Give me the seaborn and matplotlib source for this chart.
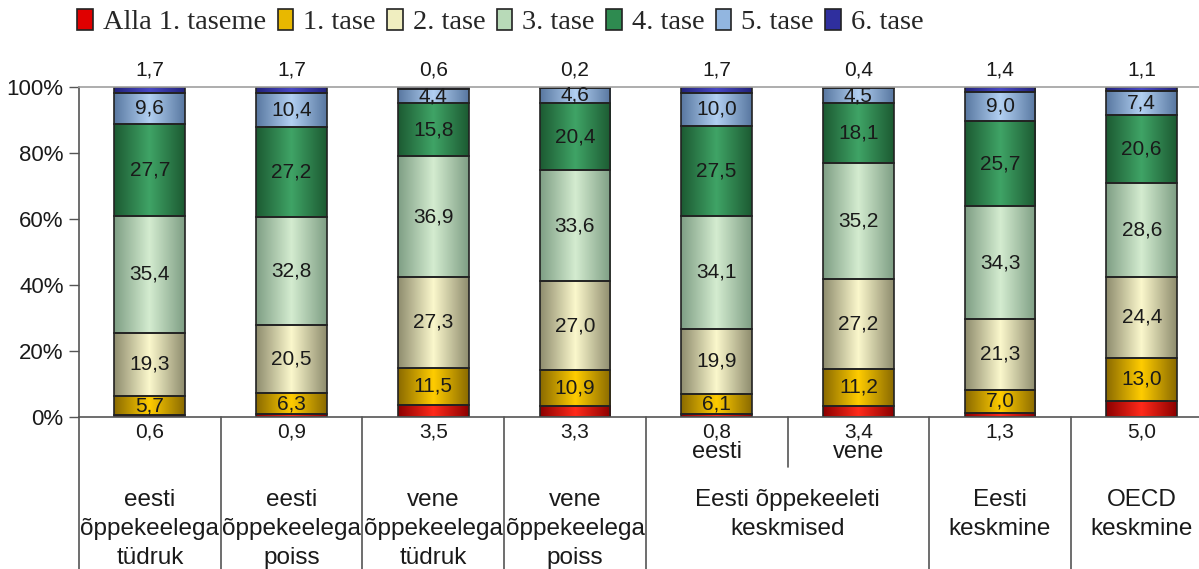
import matplotlib
matplotlib.use('Agg')
import matplotlib.pyplot as plt
import matplotlib.transforms as mtransforms
from matplotlib.colors import LinearSegmentedColormap
from matplotlib.patches import Patch
import seaborn as sns
import numpy as np
import pandas as pd

# andmed
groups = ['e_tudruk', 'e_poiss', 'v_tudruk', 'v_poiss', 'k_eesti', 'k_vene', 'eesti', 'oecd']
levels = ['Alla 1. taseme', '1. tase', '2. tase', '3. tase', '4. tase', '5. tase', '6. tase']
alla1 = [0.6, 0.9, 3.5, 3.3, 0.8, 3.4, 1.3, 5.0]
tase1 = [5.7, 6.3, 11.5, 10.9, 6.1, 11.2, 7.0, 13.0]
tase2 = [19.3, 20.5, 27.3, 27.0, 19.9, 27.2, 21.3, 24.4]
tase3 = [35.4, 32.8, 36.9, 33.6, 34.1, 35.2, 34.3, 28.6]
tase4 = [27.7, 27.2, 15.8, 20.4, 27.5, 18.1, 25.7, 20.6]
tase5 = [9.6, 10.4, 4.4, 4.6, 10.0, 4.5, 9.0, 7.4]
tase6 = [1.7, 1.7, 0.6, 0.2, 1.7, 0.4, 1.4, 1.1]
series = [alla1, tase1, tase2, tase3, tase4, tase5, tase6]

group_labels = ['eesti\nõppekeelega\ntüdruk', 'eesti\nõppekeelega\npoiss',
                'vene\nõppekeelega\ntüdruk', 'vene\nõppekeelega\npoiss',
                None, None, 'Eesti\nkeskmine', 'OECD\nkeskmine']
sub_labels = {4: 'eesti', 5: 'vene'}
span_label = 'Eesti õppekeeleti\nkeskmised'
yticks = [0, 20, 40, 60, 80, 100]

# värvid: (serv, keskkoht) silindri efekti jaoks
shades = [('#8c0000', '#ff2a1a'), ('#8a6a00', '#ffcc00'), ('#8e8c6e', '#fbf8cc'),
          ('#7e9e84', '#d4ecd0'), ('#1c5a32', '#3fa466'), ('#5877a0', '#b2d0f2'),
          ('#22227a', '#4848c4')]
legend_cols = ['#e00000', '#e8b800', '#f0eec0', '#b8dab8', '#2e8b50', '#92b6e0', '#2f2f9e']
txt = '#1a1a1a'

sns.set_style('white')
plt.rcParams['font.family'] = ['Liberation Sans', 'DejaVu Sans']

fig = plt.figure(figsize=(11.99, 5.69), dpi=100)
ax = fig.add_axes([79 / 1199, 152 / 569, 8 * 141.7 / 1199, 330 / 569])

data = np.array(series, dtype=float)
data = data / data.sum(axis=0) * 100
bottoms = np.vstack([np.zeros(len(groups)), np.cumsum(data, axis=0)[:-1]])

for i, lev in enumerate(levels):
    df = pd.DataFrame({'grupp': groups, 'val': data[i]})
    n0 = len(ax.patches)
    sns.barplot(data=df, x='grupp', y='val', order=groups, bottom=bottoms[i],
                color=legend_cols[i], width=0.5, errorbar=None,
                edgecolor='#222222', linewidth=1.2, ax=ax)
    cmap = LinearSegmentedColormap.from_list('c%d' % i, [shades[i][0], shades[i][1], shades[i][0]])
    grad = np.linspace(0, 1, 256).reshape(1, -1)
    for p in ax.patches[n0:]:
        x0, y0 = p.get_x(), p.get_y()
        im = ax.imshow(grad, cmap=cmap, aspect='auto', zorder=1.5,
                       extent=[x0, x0 + p.get_width(), y0, y0 + p.get_height()])
        im.set_clip_path(p)
        p.set_facecolor('none')
        p.set_zorder(2)

ax.set_xlim(-0.5, 7.5)
ax.set_ylim(0, 100)
ax.set_xlabel('')
ax.set_ylabel('')
ax.set_xticks([])
ax.set_yticks(yticks)
ax.set_yticklabels(['%d%%' % t for t in yticks], fontsize=16, color=txt)
ax.tick_params(axis='y', direction='out', length=7, width=1, color='#555555', pad=4, left=True)

for s in ['left', 'bottom']:
    ax.spines[s].set_color('#555555')
    ax.spines[s].set_linewidth(1.2)
ax.spines['top'].set_color('#a0a0a0')
ax.spines['top'].set_linewidth(1.2)
ax.spines['right'].set_visible(False)

# andmesildid
cum = np.cumsum(data, axis=0)
for j in range(len(groups)):
    for i in range(1, 6):
        ax.text(j, cum[i, j] - data[i, j] / 2, ('%.1f' % series[i][j]).replace('.', ','),
                ha='center', va='center', fontsize=15, color=txt, zorder=5)
    ax.text(j, -4.6, ('%.1f' % series[0][j]).replace('.', ','), ha='center', va='center',
            fontsize=15, color=txt, clip_on=False)
    ax.text(j, 105, ('%.1f' % series[6][j]).replace('.', ','), ha='center', va='center',
            fontsize=15, color=txt, clip_on=False)

# kategooriate sildid ja eraldusjooned
tr = mtransforms.blended_transform_factory(ax.transData, ax.transAxes)
for xs in [0.5, 1.5, 2.5, 3.5, 5.5, 6.5]:
    ax.plot([xs, xs], [0, -0.47], transform=tr, color='#555555', lw=1.2, clip_on=False)
ax.plot([-0.5, -0.5], [0, -0.47], transform=tr, color='#555555', lw=1.2, clip_on=False)
ax.plot([4.5, 4.5], [0, -0.152], transform=tr, color='#555555', lw=1.2, clip_on=False)

for j, lab in enumerate(group_labels):
    if lab:
        ax.text(j, -0.218, lab, transform=tr, ha='center', va='top', fontsize=17.5,
                color=txt, linespacing=1.4, clip_on=False)
for j, lab in sub_labels.items():
    ax.text(j, -0.106, lab, transform=tr, ha='center', va='center', fontsize=17,
            color=txt, clip_on=False)
ax.text(4.5, -0.218, span_label, transform=tr, ha='center', va='top', fontsize=17.5,
        color=txt, linespacing=1.4, clip_on=False)

# legend
handles = [Patch(facecolor=c, edgecolor='#222222', linewidth=1.2) for c in legend_cols]
fig.legend(handles, levels, loc='center left', bbox_to_anchor=(66 / 1199, 1 - 22 / 569),
           ncol=7, frameon=False, handlelength=0.55, handleheight=0.8, handletextpad=0.35,
           columnspacing=0.4, borderaxespad=0,
           prop={'family': 'Liberation Serif', 'size': 20.5})

plt.savefig('out.png', dpi=100)
